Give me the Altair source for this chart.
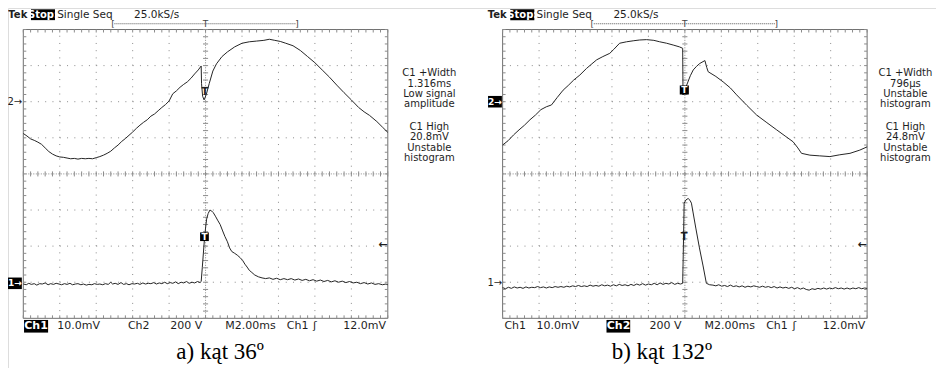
import altair as alt
import pandas as pd

# ---------------- trace data (divisions: x 0..10 across the screen, y 0..8 from screen bottom)
A_CH2 = [(0.00,5.12),(0.10,5.05),(0.20,4.97),(0.30,4.93),(0.40,4.88),(0.50,4.82),(0.60,4.72),(0.70,4.62),
         (0.80,4.55),(0.90,4.50),(1.00,4.47),(1.10,4.46),(1.20,4.44),(1.30,4.42),(1.40,4.43),(1.50,4.41),
         (1.60,4.43),(1.70,4.42),(1.80,4.43),(1.90,4.42),(2.00,4.45),(2.10,4.48),(2.20,4.52),(2.30,4.57),
         (2.40,4.63),(2.50,4.72),(2.60,4.80),(2.70,4.90),(2.80,4.98),(2.90,5.07),(3.00,5.16),(3.10,5.26),
         (3.20,5.35),(3.30,5.43),(3.40,5.50),(3.50,5.60),(3.60,5.66),(3.70,5.75),(3.80,5.84),(3.90,5.92),
         (4.00,6.02),(4.10,6.22),(4.20,6.30),(4.30,6.40),(4.40,6.48),(4.50,6.55),(4.60,6.65),(4.70,6.77),
         (4.80,6.88),(4.88,6.99),(4.89,6.50),(4.92,6.15),(4.96,6.05),(5.02,6.20),(5.10,6.50),(5.20,6.85),
         (5.30,7.05),(5.45,7.25),(5.60,7.38),(5.80,7.52),(6.00,7.62),(6.20,7.66),(6.40,7.68),(6.60,7.70),
         (6.75,7.73),(6.90,7.70),(7.05,7.67),(7.20,7.62),(7.40,7.55),(7.60,7.42),(7.80,7.25),(8.00,7.08),
         (8.20,6.88),(8.40,6.68),(8.60,6.46),(8.80,6.25),(9.00,6.05),(9.20,5.84),(9.35,5.72),(9.50,5.62),
         (9.70,5.45),(9.85,5.30),(10.00,5.15)]

A_CH1 = [(0.00,0.95),(0.08,0.93),(0.15,0.97),(0.22,0.94),(0.30,0.96),(0.37,0.92),(0.45,0.96),(0.52,0.95),
         (0.60,0.98),(0.68,0.93),(0.75,0.96),(0.83,0.94),(0.90,0.97),(0.98,0.95),(1.05,0.93),(1.13,0.96),
         (1.20,0.94),(1.28,0.97),(1.35,0.93),(1.43,0.95),(1.50,0.96),(1.58,0.93),(1.65,0.95),(1.73,0.92),
         (1.80,0.94),(1.88,0.93),(1.95,0.96),(2.03,0.94),(2.10,0.95),(2.18,0.93),(2.25,0.96),(2.33,0.94),
         (2.40,1.00),(2.45,0.95),(2.52,0.97),(2.60,0.94),(2.68,0.99),(2.75,0.94),(2.83,0.96),(2.90,0.93),
         (2.98,0.96),(3.05,0.95),(3.13,0.97),(3.20,0.94),(3.28,0.98),(3.35,0.95),(3.43,0.97),(3.50,0.96),
         (3.58,0.99),(3.65,0.95),(3.73,0.98),(3.80,0.96),(3.88,1.00),(3.95,0.96),(4.03,0.99),(4.10,0.97),
         (4.18,1.01),(4.25,0.96),(4.33,1.00),(4.40,0.98),(4.48,1.02),(4.55,0.97),(4.63,1.00),(4.70,0.98),
         (4.78,1.02),(4.85,0.99),(4.88,1.02),(4.91,1.40),(4.94,1.80),(4.97,2.20),(5.00,2.50),(5.03,2.75),
         (5.07,2.90),(5.12,3.00),(5.17,2.97),(5.21,2.93),(5.27,2.83),(5.33,2.72),(5.40,2.60),(5.47,2.42),
         (5.53,2.27),(5.60,2.12),(5.66,1.95),(5.72,1.85),(5.80,1.80),(5.87,1.75),(5.95,1.68),(6.02,1.60),
         (6.08,1.50),(6.14,1.42),(6.20,1.33),(6.27,1.27),(6.35,1.20),(6.45,1.15),(6.55,1.12),(6.65,1.10),
         (6.75,1.12),(6.85,1.08),(6.95,1.11),(7.05,1.07),(7.15,1.10),(7.25,1.07),(7.35,1.10),(7.45,1.06),
         (7.55,1.09),(7.65,1.05),(7.75,1.08),(7.85,1.04),(7.95,1.07),(8.05,1.03),(8.15,1.06),(8.25,1.02),
         (8.35,1.05),(8.45,1.01),(8.55,1.04),(8.65,1.00),(8.75,1.03),(8.85,0.99),(8.95,1.02),(9.05,0.98),
         (9.15,1.00),(9.25,0.96),(9.35,0.99),(9.45,0.95),(9.55,0.98),(9.65,0.94),(9.75,0.96),(9.85,0.93),
         (9.95,0.95),(10.00,0.93)]

B_CH2 = [(0.00,4.80),(0.15,4.92),(0.30,5.08),(0.45,5.22),(0.60,5.35),(0.75,5.50),(0.90,5.63),(1.05,5.78),
         (1.20,5.86),(1.34,5.91),(1.50,6.12),(1.66,6.32),(1.80,6.45),(1.95,6.60),(2.12,6.74),(2.30,6.92),
         (2.45,7.05),(2.58,7.16),(2.75,7.25),(2.94,7.34),(3.05,7.45),(3.21,7.62),(3.40,7.66),(3.60,7.69),
         (3.76,7.71),(3.95,7.72),(4.15,7.70),(4.31,7.66),(4.50,7.62),(4.68,7.57),(4.85,7.52),(4.94,7.48),
         (4.95,6.19),(5.05,6.46),(5.15,6.72),(5.23,6.88),(5.32,6.98),(5.41,7.06),(5.55,7.14),(5.60,6.95),
         (5.64,6.83),(5.85,6.70),(6.05,6.55),(6.25,6.38),(6.42,6.19),(6.70,5.90),(6.97,5.63),(7.25,5.42),
         (7.52,5.22),(7.75,5.05),(7.97,4.89),(8.10,4.72),(8.20,4.57),(8.43,4.52),(8.70,4.50),(8.98,4.48),
         (9.25,4.53),(9.53,4.57),(9.80,4.66),(10.00,4.75)]

B_CH1 = [(0.00,0.85),(0.08,0.82),(0.16,0.86),(0.24,0.83),(0.32,0.87),(0.40,0.84),(0.48,0.86),(0.56,0.83),
         (0.64,0.87),(0.72,0.84),(0.80,0.86),(0.88,0.85),(0.96,0.88),(1.04,0.85),(1.12,0.87),(1.20,0.84),
         (1.28,0.87),(1.36,0.85),(1.44,0.88),(1.52,0.86),(1.60,0.88),(1.68,0.86),(1.76,0.89),(1.84,0.87),
         (1.92,0.90),(2.00,0.88),(2.08,0.91),(2.16,0.88),(2.24,0.90),(2.32,0.88),(2.40,0.92),(2.48,0.89),
         (2.56,0.91),(2.64,0.89),(2.72,0.93),(2.80,0.90),(2.88,0.92),(2.96,0.89),(3.04,0.93),(3.12,0.90),
         (3.20,0.94),(3.28,0.91),(3.36,0.93),(3.44,0.90),(3.52,0.94),(3.60,0.91),(3.68,0.95),(3.76,0.92),
         (3.84,0.96),(3.92,0.92),(4.00,0.95),(4.08,0.93),(4.16,0.97),(4.24,0.93),(4.32,0.98),(4.40,0.94),
         (4.48,0.97),(4.56,0.95),(4.64,0.99),(4.72,0.94),(4.80,0.97),(4.88,0.95),(4.94,0.97),(4.96,2.00),
         (4.98,3.19),(5.03,3.28),(5.09,3.32),(5.14,3.27),(5.18,3.19),(5.30,2.50),(5.40,1.95),(5.50,1.45),
         (5.59,0.97),(5.68,0.93),(5.77,0.92),(5.85,0.90),(5.93,0.93),(6.01,0.89),(6.09,0.91),(6.17,0.88),
         (6.25,0.92),(6.33,0.88),(6.41,0.90),(6.49,0.87),(6.57,0.90),(6.65,0.86),(6.73,0.89),(6.81,0.87),
         (6.89,0.90),(6.97,0.88),(7.05,0.86),(7.13,0.89),(7.21,0.86),(7.29,0.88),(7.37,0.85),(7.45,0.88),
         (7.53,0.84),(7.61,0.87),(7.69,0.84),(7.77,0.86),(7.85,0.83),(7.93,0.86),(8.01,0.82),(8.09,0.85),
         (8.17,0.81),(8.25,0.84),(8.33,0.80),(8.41,0.78),(8.49,0.82),(8.57,0.80),(8.65,0.83),(8.73,0.81),
         (8.81,0.84),(8.89,0.81),(8.97,0.84),(9.05,0.82),(9.13,0.85),(9.21,0.82),(9.29,0.84),(9.37,0.81),
         (9.45,0.84),(9.53,0.81),(9.61,0.84),(9.69,0.82),(9.77,0.85),(9.85,0.82),(9.93,0.84),(10.00,0.83)]

# ---------------- text content
HEADER = ["Tek", "Stop:", "Single Seq", "25.0kS/s"]
MEAS_A = ["C1 +Width", "1.316ms", "Low signal", "amplitude", "C1 High", "20.8mV", "Unstable", "histogram"]
MEAS_B = ["C1 +Width", "796µs", "Unstable", "histogram", "C1 High", "24.8mV", "Unstable", "histogram"]
BOTTOM = ["Ch1", "10.0mV", "Ch2", "200 V", "M2.00ms", "Ch1", "ʃ", "12.0mV"]
CAPTIONS = ["a) kąt 36º", "b) kąt 132º"]

# ---------------- layout constants (in screen divisions)
OFF = 13.15                      # x offset of the right screen
XS = alt.Scale(domain=[-0.42, 25.04], nice=False, zero=False)
YS = alt.Scale(domain=[-1.376, 8.596], nice=False, zero=False)
GRID = "#8c8c8c"
FONT = "DejaVu Sans"
INK = "#1e1e1e"


def xenc(f="xa"):
    return alt.X(f"{f}:Q", scale=XS, axis=None)


def yenc(f="y"):
    return alt.Y(f"{f}:Q", scale=YS, axis=None)


layers = []

# ---------- screen grids
for s in (0, 1):
    o = s * OFF
    border = pd.DataFrame({"x": [0.0], "x2": [10.0], "y": [0.0], "y2": [8.0]})
    layers.append(
        alt.Chart(border).transform_calculate(xa=f"datum.x+{o}", xb=f"datum.x2+{o}")
        .mark_rect(fillOpacity=0, stroke="#707070", strokeWidth=1)
        .encode(x=xenc(), x2="xb:Q", y=yenc(), y2="y2:Q"))
    vg = pd.DataFrame({"x": [1, 2, 3, 4, 6, 7, 8, 9]})
    layers.append(
        alt.Chart(vg).transform_calculate(xa=f"datum.x+{o}", y0="0", y1="8")
        .mark_rule(color=GRID, strokeWidth=1, strokeDash=[1, 6.22])
        .encode(x=xenc(), y=yenc("y0"), y2="y1:Q"))
    hg = pd.DataFrame({"y": [1, 2, 3, 5, 6, 7]})
    layers.append(
        alt.Chart(hg).transform_calculate(xa=f"{o}", xb=f"{o}+10")
        .mark_rule(color=GRID, strokeWidth=1, strokeDash=[1, 6.29])
        .encode(x=xenc(), x2="xb:Q", y=yenc()))
    # center cross
    cc = pd.DataFrame({"x": [5.0], "y": [4.0]})
    layers.append(
        alt.Chart(cc).transform_calculate(xa=f"datum.x+{o}", y0="0", y1="8")
        .mark_rule(color=GRID, strokeWidth=1, strokeDash=[1, 1.5])
        .encode(x=xenc(), y=yenc("y0"), y2="y1:Q"))
    layers.append(
        alt.Chart(cc).transform_calculate(xa=f"{o}", xb=f"{o}+10")
        .mark_rule(color=GRID, strokeWidth=1, strokeDash=[1, 1.5])
        .encode(x=xenc(), x2="xb:Q", y=yenc()))
    # ticks along x (top border, bottom border, center line)
    for y0, y1 in ((8, 7.917), (0, 0.083), (3.93, 4.07)):
        layers.append(
            alt.Chart(alt.sequence(0, 10.01, 0.2, as_="t"))
            .transform_calculate(xa=f"datum.t+{o}", y0=f"{y0}", y1=f"{y1}")
            .mark_rule(color=GRID, strokeWidth=1)
            .encode(x=xenc(), y=yenc("y0"), y2="y1:Q"))
    # ticks along y (left border, right border, center line)
    for x0, x1 in ((0, 0.082), (10, 9.918), (4.93, 5.07)):
        layers.append(
            alt.Chart(alt.sequence(0, 8.01, 0.2, as_="t"))
            .transform_calculate(xa=f"{x0}+{o}", xb=f"{x1}+{o}")
            .mark_rule(color=GRID, strokeWidth=1)
            .encode(x=xenc(), x2="xb:Q", y=yenc("t")))

# ---------- traces
rows = []
for name, s, pts in (("a2", 0, A_CH2), ("a1", 0, A_CH1), ("b2", 1, B_CH2), ("b1", 1, B_CH1)):
    for i, (x, y) in enumerate(pts):
        rows.append({"trace": name, "s": s, "i": i, "x": x, "y": y})
tr = pd.DataFrame(rows)
layers.append(
    alt.Chart(tr).transform_calculate(xa=f"datum.x+datum.s*{OFF}")
    .mark_line(color="#262626", strokeWidth=1)
    .encode(x=xenc(), y=yenc(), detail="trace:N", order="i:Q"))

# ---------- inverted (black) boxes
HY = 8.41
LY = -0.215
boxes = pd.DataFrame([
    {"s": 0, "x": 0.21, "x2": 0.87, "y": HY - 0.15, "y2": HY + 0.15},
    {"s": 1, "x": 0.21, "x2": 0.87, "y": HY - 0.15, "y2": HY + 0.15},
    {"s": 0, "x": 0.02, "x2": 0.68, "y": LY - 0.18, "y2": LY + 0.17},
    {"s": 1, "x": 2.85, "x2": 3.50, "y": LY - 0.18, "y2": LY + 0.17},
    {"s": 0, "x": -0.42, "x2": -0.04, "y": 0.97 - 0.16, "y2": 0.97 + 0.16},
    {"s": 1, "x": -0.40, "x2": -0.02, "y": 6.0 - 0.16, "y2": 6.0 + 0.16},
    {"s": 0, "x": 4.85, "x2": 5.09, "y": 2.14, "y2": 2.38},
    {"s": 1, "x": 4.86, "x2": 5.11, "y": 6.20, "y2": 6.45},
])
layers.append(
    alt.Chart(boxes).transform_calculate(xa=f"datum.x+datum.s*{OFF}", xb=f"datum.x2+datum.s*{OFF}")
    .mark_rect(color="black")
    .encode(x=xenc(), x2="xb:Q", y=yenc(), y2="y2:Q"))


def texts(rows_, **kw):
    df = pd.DataFrame(rows_, columns=["s", "x", "y", "t"])
    base = dict(baseline="middle", font=FONT, fontSize=11, color=INK)
    base.update(kw)
    return (alt.Chart(df).transform_calculate(xa=f"datum.x+datum.s*{OFF}")
            .mark_text(**base).encode(x=xenc(), y=yenc(), text="t:N"))


# header
hdr_left, hdr_bold, hdr_white = [], [], []
for s in (0, 1):
    hdr_bold.append((s, -0.41, HY, HEADER[0]))
    hdr_white.append((s, 0.54, HY, HEADER[1]))
    hdr_left.append((s, 0.93, HY, HEADER[2]))
    hdr_left.append((s, 3.04, HY, HEADER[3]))
layers.append(texts(hdr_bold, align="left", fontWeight="bold", fontSize=10))
layers.append(texts(hdr_white, align="center", fontWeight="bold", color="white", fontSize=10))
layers.append(texts(hdr_left, align="left", fontSize=10.5))

# trigger position bracket
BRY = 8.16
br = []
for s in (0, 1):
    br += [(s, 2.46, BRY, "["), (s, 7.51, BRY, "]"), (s, 5.0, BRY, "T")]
layers.append(texts(br, align="center", fontSize=9, color="#444444"))
bl = pd.DataFrame({"s": [0, 1]})
layers.append(
    alt.Chart(bl).transform_calculate(xa=f"2.50+datum.s*{OFF}", xb=f"7.47+datum.s*{OFF}", y=f"{BRY}")
    .mark_rule(color="#555555", strokeWidth=1, strokeDash=[1, 1])
    .encode(x=xenc(), x2="xb:Q", y=yenc()))

# measurement readouts
MY = [6.795, 6.504, 6.213, 5.936, 5.299, 5.022, 4.717, 4.440]
meas = [(0, 11.14, y, t) for y, t in zip(MY, MEAS_A)] + [(1, 11.05, y, t) for y, t in zip(MY, MEAS_B)]
layers.append(texts(meas, align="center", fontSize=10))

# bottom status line
BX = [0.35, 0.93, 2.87, 4.03, 5.54, 7.23, 7.95, 8.78]
bot_plain, bot_white = [], []
for s in (0, 1):
    for i, (x, t) in enumerate(zip(BX, BOTTOM)):
        if (s == 0 and i == 0) or (s == 1 and i == 2):
            bot_white.append((s, x if i == 0 else 3.18, LY, t))
        elif i == 0:
            bot_plain.append((s, 0.05, LY, t))
        else:
            bot_plain.append((s, x, LY, t))
layers.append(texts(bot_plain, align="left"))
layers.append(texts(bot_white, align="center", fontWeight="bold", color="white"))

# channel ground markers
mk_plain = [(0, -0.03, 6.0, "2→"), (1, -0.01, 0.97, "1→")]
mk_white = [(0, -0.23, 0.97, "1→"), (1, -0.21, 6.0, "2→")]
layers.append(texts(mk_plain, align="right", fontSize=10))
layers.append(texts(mk_white, align="center", fontSize=9, color="white", fontWeight="bold"))

# trigger markers on traces
tp = [(0, 4.98, 6.28, "T"), (1, 4.98, 2.26, "T")]
tw = [(0, 4.97, 2.26, "T"), (1, 4.985, 6.33, "T")]
layers.append(texts(tp, align="center", fontSize=10, fontWeight="bold"))
layers.append(texts(tw, align="center", fontSize=9, color="white", fontWeight="bold"))
ar = [(0, 9.99, 2.03, "←"), (1, 9.99, 2.03, "←")]
layers.append(texts(ar, align="right", fontSize=11, fontWeight="bold"))

# captions
cap = [(0, 5.40, -0.92, CAPTIONS[0]), (1, 4.37, -0.92, CAPTIONS[1])]
layers.append(texts(cap, align="center", font="Liberation Serif", fontSize=23, color="black"))

chart = (
    alt.layer(*layers)
    .properties(width=928, height=360, padding=0,
                autosize=alt.AutoSizeParams(type="none"))
    .configure_view(strokeWidth=0)
    .configure(background="white")
)

chart.save("out.html", embed_options={"renderer": "svg", "actions": False})
